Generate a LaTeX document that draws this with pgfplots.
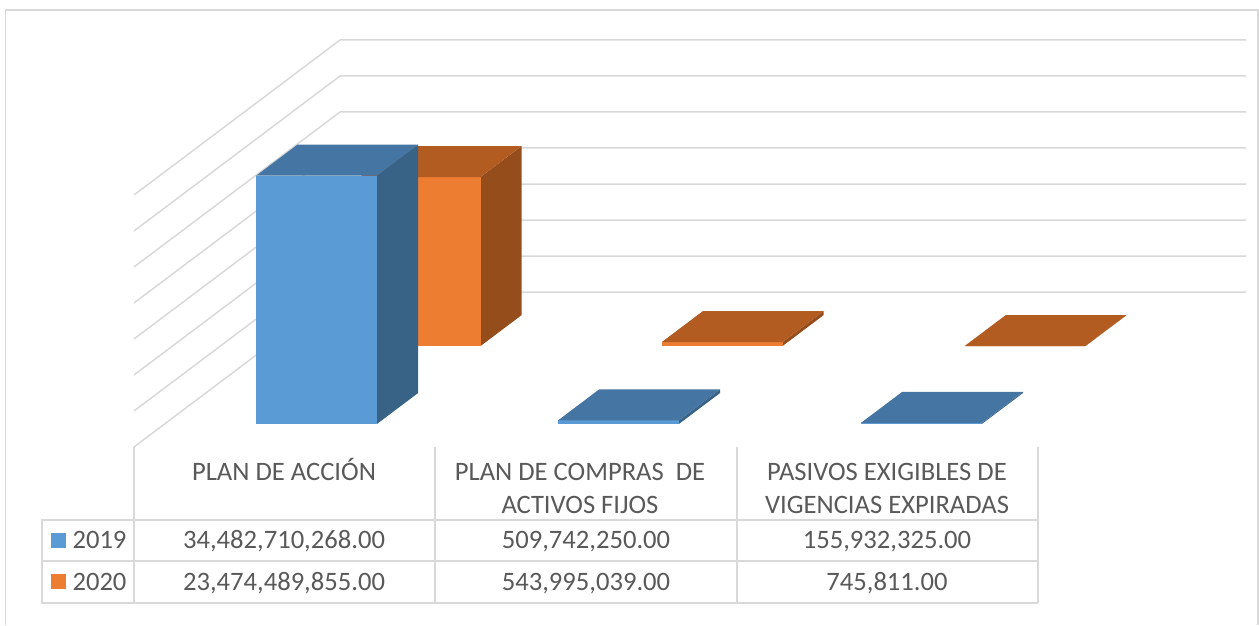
\documentclass[border=0pt]{standalone}
\usepackage{pgfplots}
\pgfplotsset{compat=1.18}
\usepackage{fontspec}
\setmainfont{Carlito}
\definecolor{gridc}{HTML}{D9D9D9}
\definecolor{txt}{HTML}{595959}
\definecolor{bf}{HTML}{5B9BD5}
\definecolor{bt}{HTML}{4575A2}
\definecolor{bs}{HTML}{386386}
\definecolor{of}{HTML}{ED7D31}
\definecolor{ot}{HTML}{B35C22}
\definecolor{os}{HTML}{964D1C}
% one 3-D column: x start, depth start, value (thousand millions), front, top, side colours
\newcommand{\column}[6]{%
  \pgfmathsetmacro{\xa}{#1}\pgfmathsetmacro{\xb}{#1+0.4}%
  \pgfmathsetmacro{\ya}{#2}\pgfmathsetmacro{\yb}{#2+0.4}%
  \addplot3[draw=none,fill=#6] coordinates {(\xb,\ya,0) (\xb,\yb,0) (\xb,\yb,#3) (\xb,\ya,#3)};
  \addplot3[draw=none,fill=#4] coordinates {(\xa,\ya,0) (\xb,\ya,0) (\xb,\ya,#3) (\xa,\ya,#3)};
  \addplot3[draw=none,fill=#5] coordinates {(\xa,\ya,#3) (\xb,\ya,#3) (\xb,\yb,#3) (\xa,\yb,#3)};
}
\newcommand{\wall}[1]{%
  \addplot3[gridc,line width=1.5pt,line join=miter] coordinates {(0,0,#1) (0,2,#1) (3,2,#1)};
}
\begin{document}
\begin{tikzpicture}[x=1pt,y=1pt]
\path[use as bounding box] (0,0) rectangle (1259,625);
\begin{axis}[
  at={(134pt,178pt)},anchor=origin,
  x={(302pt,0pt)},y={(103pt,77.5pt)},z={(0pt,7.2pt)},
  xmin=0,xmax=3,ymin=0,ymax=2,zmin=0,zmax=35,
  hide axis,clip=false,
]
\wall{0}\wall{5}\wall{10}\wall{15}\wall{20}\wall{25}\wall{30}\wall{35}
% 2020
\column{0.303}{1.303}{23.474489855}{of}{ot}{os}
\column{1.303}{1.303}{0.543995039}{of}{ot}{os}
\column{2.306}{1.303}{0.000745811}{of}{ot}{os}
% 2019
\column{0.303}{0.297}{34.482710268}{bf}{bt}{bs}
\column{1.303}{0.297}{0.509742250}{bf}{bt}{bs}
\column{2.306}{0.297}{0.155932325}{bf}{bt}{bs}
\end{axis}
\begin{scope}[shift={(0,625)},y=-1pt]
  % frame
  \draw[gridc,line width=1.5pt] (5.5,625) -- (5.5,10) -- (1258,10) -- (1258,625);
  % table rules
  \draw[gridc,line width=2pt]
    (134,447) -- (134,603)
    (435,447) -- (435,603)
    (737,447) -- (737,603)
    (1038,447) -- (1038,603)
    (42,520) -- (1038,520)
    (42,561) -- (1038,561)
    (42,603) -- (1038,603)
    (42,519) -- (42,604);
  \fill[bf] (51,533) rectangle (66,548);
  \fill[of] (51,574) rectangle (66,589);
  \begin{scope}[every node/.style={text=txt,inner sep=0pt,font=\fontsize{26.6}{31}\selectfont,anchor=base}]
    \node at (284,480.5) {PLAN DE ACCIÓN};
    \node at (580,480.5) {PLAN DE COMPRAS\ \ DE};
    \node at (580,513.5) {ACTIVOS FIJOS};
    \node at (887,480.5) {PASIVOS EXIGIBLES DE};
    \node at (887,513.5) {VIGENCIAS EXPIRADAS};
    \node at (99.5,548.5) {2019};
    \node at (99.5,590) {2020};
    \node at (284,548.5) {34,482,710,268.00};
    \node at (586,548.5) {509,742,250.00};
    \node at (887,548.5) {155,932,325.00};
    \node at (284,590) {23,474,489,855.00};
    \node at (586,590) {543,995,039.00};
    \node at (887,590) {745,811.00};
  \end{scope}
\end{scope}
\end{tikzpicture}
\end{document}
